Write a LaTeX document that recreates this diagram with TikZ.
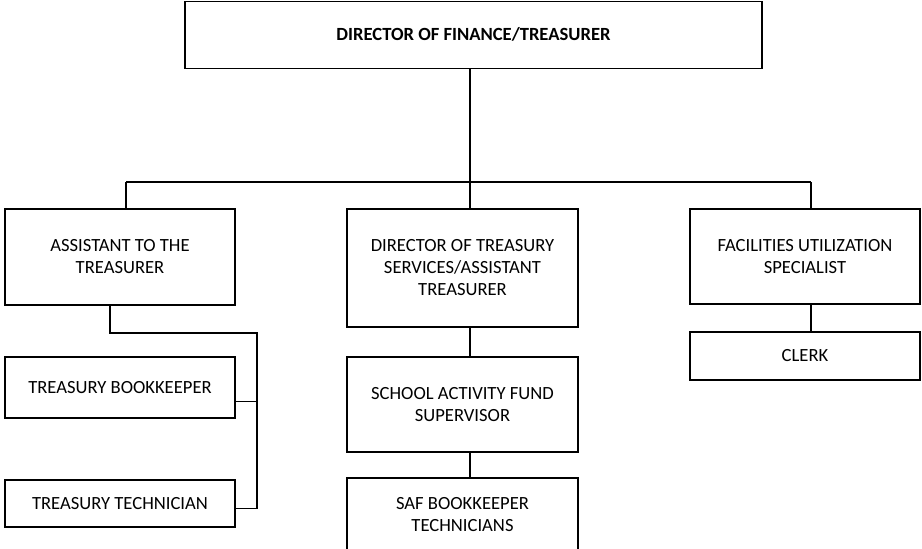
\documentclass[tikz,border=0pt]{standalone}
\usepackage{fontspec}
\setmainfont{Carlito}
\usepackage{tikz}

\tikzset{post/.style={draw,line width=1.2pt,align=center,inner sep=2pt,
    font=\fontsize{18.6}{22}\selectfont},
  link/.style={line width=1.4pt}}

\begin{document}
\begin{tikzpicture}[x=1pt,y=-1pt]
    \useasboundingbox (0,0) rectangle (922,549);
 \node[post,minimum width=577pt,minimum height=67pt,
   font=\bfseries\fontsize{18.6}{22}\selectfont] (fin) at (473.5,35) {\raisebox{2pt}{DIRECTOR OF FINANCE/TREASURER}};
    \node[post,minimum width=230pt,minimum height=96pt] (asst) at (120,257) {ASSISTANT TO THE\\TREASURER};
    \node[post,minimum width=230pt,minimum height=61pt] (tbk) at (120,387.5) {TREASURY BOOKKEEPER};
    \node[post,minimum width=230pt,minimum height=47pt] (ttech) at (120,503.5) {TREASURY TECHNICIAN};
    \node[post,minimum width=231pt,minimum height=118pt] (dts) at (462.5,268) {DIRECTOR OF TREASURY\\SERVICES/ASSISTANT\\TREASURER};
    \node[post,minimum width=231pt,minimum height=95pt] (safs) at (462.5,404.5) {SCHOOL ACTIVITY FUND\\SUPERVISOR};
    \node[post,minimum width=231pt,minimum height=73pt] (safbk) at (462.5,514.5) {SAF BOOKKEEPER\\TECHNICIANS};
    \node[post,minimum width=230pt,minimum height=95pt] (fus) at (805,256.5) {FACILITIES UTILIZATION\\SPECIALIST};
    \node[post,minimum width=230pt,minimum height=48pt] (clerk) at (805,356) {CLERK};

    \coordinate (bl) at (126,182);
    \coordinate (bm) at (470,182);
    \coordinate (br) at (811,182);
    \coordinate (spine) at (257,333);
    \coordinate (tbkout) at ([yshift=-14pt]tbk.east);
    \coordinate (ttout) at ([yshift=-5pt]ttech.east);
 \draw[link] (bm |- fin.south) -- (bm);
 \draw[link] (bl) -- (br);
 \draw[link] (bl) -- (bl |- asst.north);
    \draw[link] (bm) -- (bm |- dts.north);
    \draw[link] (br) -- (br |- fus.north);
\draw[link] (bm |- dts.south) -- (bm |- safs.north);
\draw[link] (bm |- safs.south) -- (bm |- safbk.north);
    \draw[link] (br |- fus.south) -- (br |- clerk.north);
    % bracket under the assistant
    \draw[link] ([xshift=-10pt]asst.south) |- (spine) -- (spine |- ttout) -- (ttout);
    \draw[link] (tbkout) -- (spine |- tbkout);
  \end{tikzpicture}
\end{document}
